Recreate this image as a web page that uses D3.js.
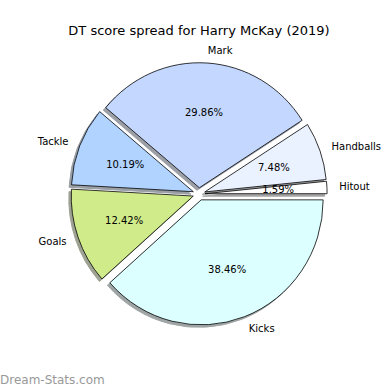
<!DOCTYPE html>
<html>
<head>
<meta charset="utf-8">
<script src="https://cdn.jsdelivr.net/npm/d3@7"></script>
<style>
    html, body { margin: 0; padding: 0; background: #fff; }
    svg { display: block; font-family: "DejaVu Sans", sans-serif; }
</style>
</head>
<body>
<div id="chart"></div>
<script>
// Wedges in drawing order, counter-clockwise from 3 o'clock
var categories = ["Hitout", "Handballs", "Mark", "Tackle", "Goals", "Kicks"];
var shares = [1.59, 7.48, 29.86, 10.19, 12.42, 38.46];
var colors = ["#ffffff", "#ebf2ff", "#c4d8ff", "#b0d4ff", "#d0ec8a", "#dcffff"];
var explode = [0.05, 0.05, 0.05, 0.05, 0.05, 0.05];

var width = 390, height = 390;
var cx = 199, cy = 194;
// the source pie is a touch taller than wide
var rx = 122, ry = 125;

var svg = d3.select("#chart").append("svg")
    .attr("width", width)
    .attr("height", height);

svg.append("text")
    .attr("x", 199)
    .attr("y", 30)
    .attr("text-anchor", "middle")
    .attr("dominant-baseline", "central")
    .attr("font-size", 13)
    .attr("fill", "#000")
    .text("DT score spread for Harry McKay (2019)");

// d3 angles run clockwise from north; go backwards to mimic a ccw pie from east
var pie = d3.pie().sort(null)
    .startAngle(Math.PI / 2)
    .endAngle(Math.PI / 2 - 2 * Math.PI);

var arcs = pie(shares);
var arc = d3.arc().innerRadius(0).outerRadius(ry);

var g = svg.append("g").attr("transform", "translate(" + cx + "," + cy + ")");

// position along the wedge's mid direction, dist in radius units
function posOf(d, dist) {
    var m = (d.startAngle + d.endAngle) / 2;
    return [Math.sin(m) * dist * rx, -Math.cos(m) * dist * ry];
}

function shade(c) {
    c = d3.rgb(c);
    return d3.rgb(c.r * 0.3, c.g * 0.3, c.b * 0.3);
}

var sx = rx / ry;

// shadows first, under every wedge
g.selectAll("path.shadow").data(arcs).enter().append("path")
    .attr("class", "shadow")
    .attr("d", arc)
    .attr("transform", function (d, i) {
        var o = posOf(d, explode[i]);
        return "translate(" + (o[0] - 0.02 * rx) + "," + (o[1] + 0.02 * ry) + ") scale(" + sx + ",1)";
    })
    .attr("fill", function (d, i) { return shade(colors[i]); })
    .attr("stroke", function (d, i) { return shade(colors[i]); })
    .attr("opacity", 0.5);

g.selectAll("path.wedge").data(arcs).enter().append("path")
    .attr("class", "wedge")
    .attr("d", arc)
    .attr("transform", function (d, i) {
        var o = posOf(d, explode[i]);
        return "translate(" + o[0] + "," + o[1] + ") scale(" + sx + ",1)";
    })
    .attr("fill", function (d, i) { return colors[i]; })
    .attr("stroke", "#000")
    .attr("stroke-width", 0.8)
    .attr("stroke-linejoin", "round");

// category labels at 1.1 r
g.selectAll("text.label").data(arcs).enter().append("text")
    .attr("class", "label")
    .attr("x", function (d, i) { return posOf(d, explode[i] + 1.1)[0]; })
    .attr("y", function (d, i) { return posOf(d, explode[i] + 1.1)[1]; })
    .attr("text-anchor", function (d) { return posOf(d, 1)[0] > 0 ? "start" : "end"; })
    .attr("dominant-baseline", "central")
    .attr("font-size", 10)
    .text(function (d, i) { return categories[i]; });

// percentages at 0.6 r
g.selectAll("text.pct").data(arcs).enter().append("text")
    .attr("class", "pct")
    .attr("x", function (d, i) { return posOf(d, explode[i] + 0.6)[0]; })
    .attr("y", function (d, i) { return posOf(d, explode[i] + 0.6)[1]; })
    .attr("text-anchor", "middle")
    .attr("dominant-baseline", "central")
    .attr("font-size", 10)
    .text(function (d, i) { return shares[i].toFixed(2) + "%"; });

svg.append("text")
    .attr("x", 0)
    .attr("y", 380)
    .attr("dominant-baseline", "central")
    .attr("font-size", 12)
    .attr("fill", "#999")
    .text("Dream-Stats.com");
</script>
</body>
</html>
